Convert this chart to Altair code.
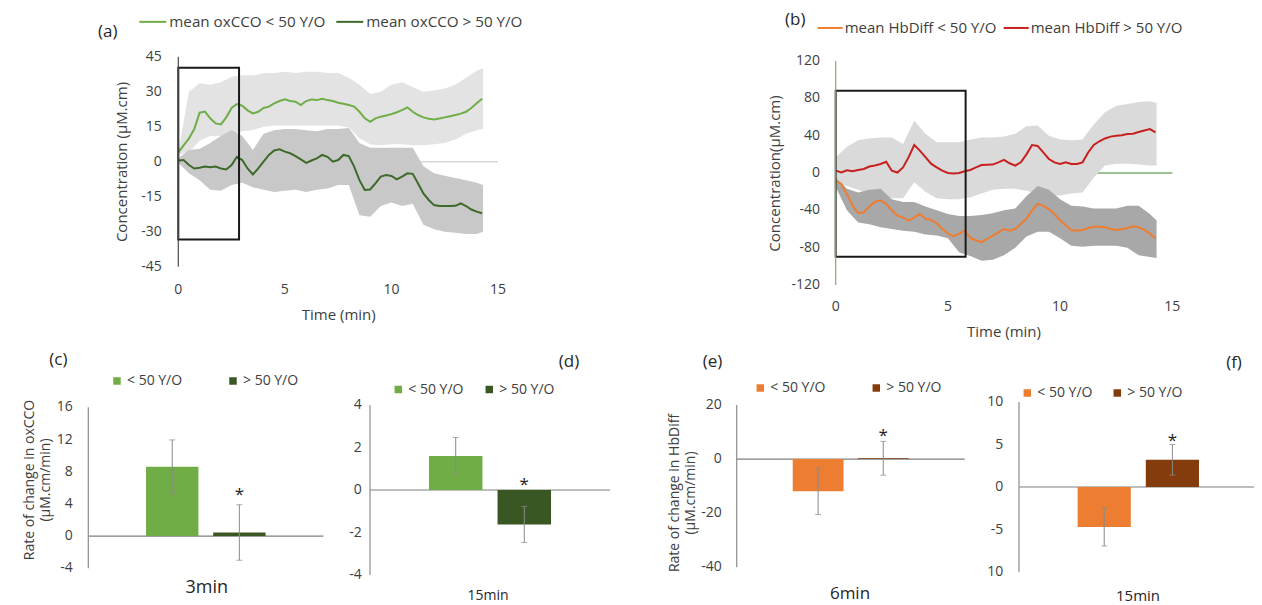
import altair as alt
import pandas as pd

FONT = "Open Sans"
INK = "#404040"
W, H = 1246, 597

# ---------------- time series data (panels a, b) ----------------
t_line = [0, 0.25, 0.5, 0.75, 1, 1.25, 1.5, 1.75, 2, 2.25, 2.5, 2.75, 3, 3.25, 3.5, 3.75,
          4, 4.25, 4.5, 4.75, 5, 5.25, 5.5, 5.75, 6, 6.25, 6.5, 6.75, 7, 7.25, 7.5, 7.75,
          8, 8.25, 8.5, 8.75, 9, 9.25, 9.5, 9.75, 10, 10.25, 10.5, 10.75, 11, 11.25, 11.5, 11.75,
          12, 12.25, 12.5, 12.75, 13, 13.25, 13.5, 13.75, 14, 14.25]

oxcco_young = [4, 7, 10, 14, 21, 21.5, 18.6, 16.4, 16, 19, 23, 24.7, 24, 22, 20.7, 21.4,
               23, 23.6, 25, 26, 26.7, 26, 25.7, 24.3, 26, 26.7, 26.4, 27, 26.4, 26, 25.3, 24.8,
               24.3, 23.6, 21.4, 18.6, 17.1, 18.6, 19.3, 19.8, 20.4, 21.2, 22.1, 23.3, 21.4, 20, 19, 18.4,
               18.1, 18.5, 19, 19.5, 20, 20.6, 21.4, 23, 25, 27]
oxcco_old = [0.5, 0.7, -1.4, -2.9, -2.6, -2.1, -2.4, -2.1, -2.9, -3.3, -1.4, 2.1, 0.7, -2.9, -5.5, -2.9,
             0, 2.9, 4.8, 5.3, 4.3, 3.6, 2.4, 1, -0.5, 0.5, 1.4, 2.9, 2.1, 0, 0.7, 2.9,
             2.4, -2.1, -7.9, -12.1, -11.9, -9.3, -6.4, -5.7, -6.1, -7.6, -6.4, -5, -5.2, -9.3, -13.6, -16.4,
             -18.6, -19, -19, -19, -18.9, -17.9, -19, -20.5, -21.4, -22.1]

hb_young = [-8.2, -11.8, -22.5, -35, -43, -42, -36, -30.7, -29.6, -33, -40, -45.7, -47.5, -51, -47.5, -44,
            -49, -50, -54, -60, -64.6, -68, -65, -61.8, -69.6, -72, -74, -70.7, -67, -63.6, -60, -61.8,
            -60, -54.6, -49, -40, -33, -35, -38.6, -44, -51, -56, -61, -61.8, -61, -59, -57.5, -57.5,
            -58, -60, -61, -60, -59, -57, -58, -61, -65, -70]
hb_old = [2.5, 0.7, 3, 1.8, 3.2, 4.3, 7, 8, 9.6, 12, 2.5, 0.5, 6, 17, 30, 24,
          17, 10, 6, 2.5, 0, -0.4, 0, 1.8, 3.2, 6, 8.6, 8.8, 9, 11.4, 14, 10.4,
          7.9, 11.4, 20, 30, 29, 22, 15, 11.4, 9.6, 11.4, 9.6, 9.6, 11.4, 22, 30, 34,
          37, 39, 40, 40.5, 41.8, 42, 44, 45.5, 47, 43.6]

t_band = [0, 0.5, 1, 1.5, 2, 2.5, 3, 3.5, 4, 4.5, 5, 5.5, 6, 6.5, 7, 7.5,
          8, 8.5, 9, 9.5, 10, 10.5, 11, 11.5, 12, 12.5, 13, 13.5, 14, 14.3]

oxcco_young_hi = [4, 30, 33.6, 33, 34, 36.4, 37, 37, 37.9, 38, 38.5, 38, 38.6, 38.5, 38, 38,
                  36, 33, 29, 30, 33, 34, 32, 30, 30.5, 31.4, 33, 36, 39, 40]
oxcco_young_lo = [3, 4, 9, 11, 11, 12, 13, 13.6, 15, 15.5, 15.5, 15.5, 15.5, 15.5, 15.5, 15.5,
                  14.5, 10, 7.5, 7, 7.5, 7.5, 7, 7, 7.5, 8, 9.5, 12, 13.5, 14]
oxcco_old_hi = [1.5, 5, 5.5, 8, 11, 13.6, 11, 5, 12, 13.5, 14, 14, 13.5, 13, 14, 14,
                14.4, 8, 6, 6, 6, 6, 6, -2, -5, -6, -7, -8, -9, -10]
oxcco_old_lo = [-0.5, -5, -8, -12, -12.5, -10, -9, -11, -12, -13, -12.5, -12, -13, -12, -11.5, -10,
                -10, -23, -23.6, -19, -17.5, -19, -18, -27, -29, -30, -30.5, -31, -31, -30]

hb_old_hi = [17, 28, 35, 37, 38, 38, 31, 56, 42, 33, 33, 33, 36, 38, 38, 39,
             42, 50, 51, 40, 36, 35, 36, 52, 65, 72, 74, 76, 77, 75]
hb_old_lo = [-12, -14, -18, -22, -25, -27, -27, -10, -20, -27, -28, -28, -26, -22, -18, -17,
             -17, -19, -22, -24, -24, -22, -21, -5, 8, 10, 10, 9, 8, 8]
hb_young_hi = [-5, -17, -21, -18, -17, -28, -31, -31, -36, -40, -44, -46, -46, -45, -43, -40,
               -38, -25, -14, -18, -28, -35, -36, -38, -38, -38, -35, -35, -44, -51]
hb_young_lo = [-15, -40, -53, -55, -58, -60, -62, -63, -66, -67, -70, -85, -89, -94, -93, -88,
               -80, -68, -63, -63, -70, -78, -79, -78, -78, -78, -80, -88, -90, -91]

# highlighted windows (time start, time end, value low, value high)
box_a = [0, 2.85, -33.3, 40.3]
box_b = [0, 5.79, -89.6, 88.2]

names_a = ["mean oxCCO < 50 Y/O", "mean oxCCO > 50 Y/O"]
names_b = ["mean HbDiff < 50 Y/O", "mean HbDiff > 50 Y/O"]

time_ticks = [0, 5, 10, 15]
ticks_a = [-45, -30, -15, 0, 15, 30, 45]
ticks_b = [-120, -80, -40, 0, 40, 80, 120]

# ---------------- bar data (panels c-f) ----------------
groups = ["< 50 Y/O", "> 50 Y/O"]
rate_c, err_c = [8.6, 0.45], [3.35, 3.45]
rate_d, err_d = [1.6, -1.62], [0.87, 0.85]
rate_e, err_e = [-11.9, 0.3], [8.6, 6.25]
rate_f, err_f = [-4.7, 3.2], [2.25, 1.8]
star_at = [5.6, 0.44, 10.2, 5.9]   # value where the "*" sits, on the > 50 bar
ticks_c = [-4, 0, 4, 8, 12, 16]
ticks_d = [-4, -2, 0, 2, 4]
ticks_e = [-40, -20, 0, 20]
ticks_f = [-10, -5, 0, 5, 10]
tick_labels_f = ["10", "-5", "0", "5", "10"]   # as printed in the original
bar_titles = ["3min", "15min", "6min", "15min"]
panel_labels = ["(a)", "(b)", "(c)", "(d)", "(e)", "(f)"]

GREEN, DKGREEN = "#70ad47", "#385723"
ORANGE, BROWN = "#ed7d31", "#843c0c"
RED = "#c8201f"


def txt(s, x, y, size, angle=0, color=INK):
    return alt.Chart(pd.DataFrame({"s": [s]})).mark_text(
        fontSize=size, color=color, font=FONT, align="center", baseline="middle",
        angle=angle, lineBreak="\n").encode(text="s:N", x=alt.value(x), y=alt.value(y))


def time_panel(young, old, yh, yl, oh, ol, names, colors, light, dark, box,
               xr, yr, ydom, yvals, ycolor, zcolor, ytitle, ytitle_pos, xtitle_pos,
               lab_x, xlab_y, legx, legy, symlen, colpad, lab_off, leg_font, young_light):
    xs = alt.Scale(domain=[0, 15], range=xr, nice=False, zero=False)
    ys = alt.Scale(domain=ydom, range=yr, nice=False, zero=False)
    X = lambda f: alt.X(f, scale=xs, axis=None)
    Y = lambda f: alt.Y(f, scale=ys, axis=None)
    zero = alt.Chart(pd.DataFrame({"t0": [0], "t1": [15], "v": [0]})).mark_rule(
        color=zcolor, strokeWidth=1.5).encode(x=X("t0:Q"), x2="t1:Q", y=Y("v:Q"))
    bdf = pd.DataFrame({"t": t_band, "yh": yh, "yl": yl, "oh": oh, "ol": ol})
    lc, dc = (("yh", "yl"), ("oh", "ol")) if young_light else (("oh", "ol"), ("yh", "yl"))
    band_light = alt.Chart(bdf).mark_area(color=light, opacity=1).encode(
        x=X("t:Q"), y=Y(lc[0] + ":Q"), y2=lc[1] + ":Q")
    band_dark = alt.Chart(bdf).mark_area(color=dark, opacity=1).encode(
        x=X("t:Q"), y=Y(dc[0] + ":Q"), y2=dc[1] + ":Q")
    n = len(t_line)
    ldf = pd.DataFrame({"t": t_line * 2, "v": young + old, "s": [names[0]] * n + [names[1]] * n})
    lines = alt.Chart(ldf).mark_line(strokeWidth=2).encode(
        x=X("t:Q"), y=Y("v:Q"),
        color=alt.Color("s:N", scale=alt.Scale(domain=names, range=colors),
                        legend=alt.Legend(orient="none", legendX=legx, legendY=legy,
                                          direction="horizontal", title=None,
                                          symbolType="stroke", symbolSize=symlen ** 2,
                                          symbolStrokeWidth=2, labelFontSize=leg_font,
                                          labelColor=INK, labelFont=FONT, labelOffset=lab_off,
                                          columnPadding=colpad, padding=0)))
    bx = alt.Chart(pd.DataFrame({"t0": [box[0]], "t1": [box[1]], "v0": [box[2]], "v1": [box[3]]})
                   ).mark_rect(fillOpacity=0, stroke="#1a1a1a", strokeWidth=2).encode(
        x=X("t0:Q"), x2="t1:Q", y=Y("v0:Q"), y2="v1:Q")
    yline = alt.Chart(pd.DataFrame({"t": [0], "lo": [ydom[0]], "hi": [ydom[1]]})).mark_rule(
        color=ycolor, strokeWidth=1.2).encode(x=X("t:Q"), y=Y("lo:Q"), y2="hi:Q")
    ylab = alt.Chart(pd.DataFrame({"v": yvals, "lab": [str(v) for v in yvals]})).mark_text(
        align="right", baseline="middle", fontSize=14, color=INK, font=FONT).encode(
        x=alt.value(lab_x), y=Y("v:Q"), text="lab:N")
    xlab = alt.Chart(pd.DataFrame({"t": time_ticks, "lab": [str(v) for v in time_ticks]})).mark_text(
        align="center", baseline="middle", fontSize=14, color=INK, font=FONT).encode(
        x=X("t:Q"), y=alt.value(xlab_y), text="lab:N")
    return alt.layer(zero, band_light, band_dark, lines, bx, yline, ylab, xlab,
                     txt(ytitle, ytitle_pos[0], ytitle_pos[1], 15, angle=270),
                     txt("Time (min)", xtitle_pos[0], xtitle_pos[1], 15))


def bar_panel(rate, err, star, colors, xr, yr, ydom, yvals, ylabels, lab_x,
              ytitle, ytitle_pos, title, title_pos, title_size, legx, legy, colpad):
    xs = alt.Scale(domain=groups, range=xr, paddingInner=0.22, paddingOuter=0.86)
    ys = alt.Scale(domain=ydom, range=yr, nice=False, zero=False)
    X = lambda f: alt.X(f, scale=xs, axis=None, sort=groups)
    Y = lambda f: alt.Y(f, scale=ys, axis=None)
    df = pd.DataFrame({"g": groups, "m": rate, "z": [0, 0],
                       "lo": [m - e for m, e in zip(rate, err)],
                       "hi": [m + e for m, e in zip(rate, err)]})
    zero = alt.Chart(pd.DataFrame({"v": [0]})).mark_rule(color="#7f7f7f", strokeWidth=1.2).encode(
        y=Y("v:Q"), x=alt.value(xr[0]), x2=alt.value(xr[1]))
    yline = alt.Chart(pd.DataFrame({"lo": [ydom[0]], "hi": [ydom[1]]})).mark_rule(
        color="#8c8c8c", strokeWidth=1.2).encode(x=alt.value(xr[0]), y=Y("lo:Q"), y2="hi:Q")
    bars = alt.Chart(df).mark_bar().encode(
        x=X("g:N"), y=Y("m:Q"), y2="z:Q",
        color=alt.Color("g:N", scale=alt.Scale(domain=groups, range=colors), sort=groups,
                        legend=alt.Legend(orient="none", legendX=legx, legendY=legy,
                                          direction="horizontal", title=None,
                                          symbolType="square", symbolSize=56,
                                          symbolStrokeWidth=0, labelFontSize=14,
                                          labelColor=INK, labelFont=FONT, labelOffset=3,
                                          columnPadding=colpad, padding=0)))
    rule = alt.Chart(df).mark_rule(color="#8a8a8a", strokeWidth=1).encode(
        x=X("g:N"), y=Y("lo:Q"), y2="hi:Q")
    cap_hi = alt.Chart(df).mark_tick(color="#8a8a8a", thickness=1, size=6).encode(
        x=X("g:N"), y=Y("hi:Q"))
    cap_lo = alt.Chart(df).mark_tick(color="#8a8a8a", thickness=1, size=6).encode(
        x=X("g:N"), y=Y("lo:Q"))
    sdf = pd.DataFrame({"g": [groups[1]], "s": [star], "txt": ["*"]})
    stars = alt.Chart(sdf).mark_text(fontSize=17, color="#222222", dy=4,
                                     baseline="middle", font=FONT).encode(
        x=X("g:N"), y=Y("s:Q"), text="txt:N")
    ylab = alt.Chart(pd.DataFrame({"v": yvals, "lab": ylabels})).mark_text(
        align="right", baseline="middle", fontSize=14, color=INK, font=FONT).encode(
        x=alt.value(lab_x), y=Y("v:Q"), text="lab:N")
    layers = [zero, yline, bars, rule, cap_hi, cap_lo, stars, ylab,
              txt(title, title_pos[0], title_pos[1], title_size, color="#262626")]
    if ytitle:
        layers.append(txt(ytitle, ytitle_pos[0], ytitle_pos[1], 14, angle=270))
    return alt.layer(*layers)


panel_a = time_panel(oxcco_young, oxcco_old, oxcco_young_hi, oxcco_young_lo,
                     oxcco_old_hi, oxcco_old_lo, names_a, [GREEN, "#3d6a2a"],
                     "#e3e3e3", "#c8c8c8", box_a,
                     [170.3, 490], [258.7, 48.7], [-45, 45], ticks_a,
                     "#4a4a4a", "#d6d6d6", "Concentration (\u03bcM.cm)", (113.7, 154), (330.7, 307),
                     153.7, 282, 130.3, -0.8, 27, 6, 2, 15.2, True)

panel_b = time_panel(hb_young, hb_old, hb_young_hi, hb_young_lo, hb_old_hi, hb_old_lo,
                     names_b, [ORANGE, RED], "#dadada", "#a8a8a8", box_b,
                     [827.7, 1164.3], [277, 53], [-120, 120], ticks_b,
                     "#7fae6c", "#7fae6c", "Concentration(\u03bcM.cm)", (767, 165.5), (996, 323.7),
                     812, 299.3, 808.7, 6.2, 25, 3, 1, 15, False)

panel_c = bar_panel(rate_c, err_c, star_at[0], [GREEN, DKGREEN], [80.3, 315.3], [560.3, 399.3],
                    [-4, 16], ticks_c, [str(v) for v in ticks_c], 64.7,
                    "Rate of change in oxCCO\n(\u03bcM.cm/min)", (22, 472),
                    bar_titles[0], (198.7, 580), 18, 102, 366, 43)
panel_d = bar_panel(rate_d, err_d, star_at[1], [GREEN, DKGREEN], [362, 602], [567, 397],
                    [-4, 4], ticks_d, [str(v) for v in ticks_d], 353.7, None, None,
                    bar_titles[1], (480, 587.5), 14, 383.3, 374.5, 18)
panel_e = bar_panel(rate_e, err_e, star_at[2], [ORANGE, BROWN], [728.7, 956.7], [559.3, 397],
                    [-40, 20], ticks_e, [str(v) for v in ticks_e], 713.7,
                    "Rate of change in HbDiff\n(\u03bcM.cm/min)", (667, 485),
                    bar_titles[2], (842, 586), 17, 745.3, 373, 43)
panel_f = bar_panel(rate_f, err_f, star_at[3], [ORANGE, BROWN], [1011, 1249.6], [564, 394],
                    [-10, 10], ticks_f, tick_labels_f, 995.3, None, None,
                    bar_titles[3], (1130, 587.5), 15, 1012.3, 378, 17)

label_pos = [(99.8, 23.7), (787.3, 12), (50.3, 352), (561, 354.3), (704.5, 354.3), (1226, 355.3)]
labels = [txt(lab, p[0], p[1], 17, color="#262626") for lab, p in zip(panel_labels, label_pos)]

chart = alt.layer(panel_a, panel_b, panel_c, panel_d, panel_e, panel_f, *labels).resolve_scale(
    x="independent", y="independent", color="independent"
).properties(
    width=W, height=H, padding=0, autosize=alt.AutoSizeParams(type="none"),
    background="white"
).configure_view(stroke=None).configure_text(font=FONT)

chart.save("out.html", embed_options={"renderer": "svg", "actions": False})
